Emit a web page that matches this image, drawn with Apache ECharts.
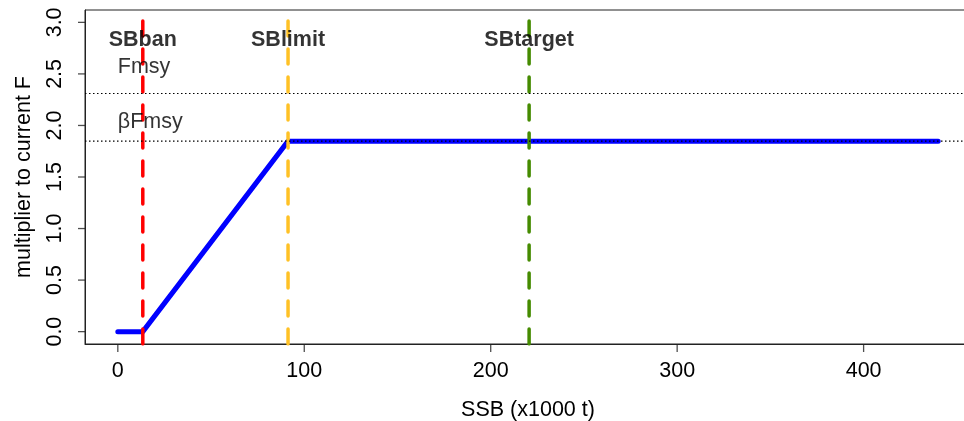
<!DOCTYPE html>
<html>
<head>
<meta charset="utf-8">
<script src="https://cdn.jsdelivr.net/npm/echarts@6/dist/echarts.min.js"></script>
<style>
html,body{margin:0;padding:0;background:#fff;overflow:hidden;width:964px;height:421px;}
#chart{width:971px;height:421px;}
</style>
</head>
<body>
<div id="chart"></div>
<script>
// ---- data ----
const hcrSSB = [0, 13.4, 91.3, 440];
const hcrMultiplier = [0, 0, 1.848, 1.848];
const refNames = ["SBban", "SBlimit", "SBtarget"];
const refSSB = [13.4, 91.3, 220.6];
const refColors = ["#FF0000", "#FFC125", "#458B00"];
const refLabelY = 2.83;
const fLevelNames = ["Fmsy", "βFmsy"];
const fLevels = [2.31, 1.848];
const fLabelY = [2.565, 2.03];
const xTicks = [0, 100, 200, 300, 400];
const yTicks = [0, 0.5, 1, 1.5, 2, 2.5, 3];
const xMin = -17.6, xMax = 457.6;
const yMin = -0.12, yMax = 3.12;

const FONT = "Liberation Sans";
const FS = 21.5;

const series = [];
// horizontal dotted lines
fLevels.forEach((v, i) => {
  series.push({
    type: 'line', data: [[xMin, v], [xMax, v]], symbol: 'none', silent: true, z: 5,
    lineStyle: { color: '#000', width: 1.2, type: [1.5, 2.5] }
  });
});
// HCR line
series.push({
  type: 'line', data: hcrSSB.map((x, i) => [x, hcrMultiplier[i]]), symbol: 'none', z: 3,
  lineStyle: { color: '#0000FF', width: 5, cap: 'round', join: 'round' }
});
// vertical reference lines
refSSB.forEach((x, i) => {
  series.push({
    type: 'line', data: [[x, yMin], [x, yMax]], symbol: 'none', silent: true, z: 4,
    lineStyle: { color: refColors[i], width: 3.5, type: [15, 13], cap: 'round' }
  });
});
// reference labels
series.push({
  type: 'scatter', symbolSize: 0, z: 10,
  data: refNames.map((n, i) => ({ name: n, value: [refSSB[i], refLabelY] })),
  label: { show: true, position: 'inside', formatter: p => p.name,
    fontFamily: FONT, fontSize: FS, fontWeight: 'bold', color: '#000',
    align: 'center', verticalAlign: 'middle' }
});
series.push({
  type: 'scatter', symbolSize: 0, z: 10,
  data: fLevelNames.map((n, i) => ({ name: n, value: [0, fLabelY[i]] })),
  label: { show: true, position: 'inside', formatter: p => p.name,
    fontFamily: FONT, fontSize: FS, color: '#000',
    align: 'left', verticalAlign: 'middle' }
});
// tick marks as small rect symbols at the axis edges (no clipping)
series.push({
  type: 'scatter', silent: true, clip: false, z: 20,
  data: xTicks.map(v => [v, yMin]),
  symbol: 'rect', symbolSize: [1.3, 8], symbolOffset: [0, 4],
  itemStyle: { color: '#222' }
});
series.push({
  type: 'scatter', silent: true, clip: false, z: 20,
  data: yTicks.map(v => [xMin, v]),
  symbol: 'rect', symbolSize: [7, 1.3], symbolOffset: [-3.5, 0],
  itemStyle: { color: '#222' }
});

const chart = echarts.init(document.getElementById('chart'), null, { renderer: 'canvas' });
chart.setOption({
  animation: false,
  backgroundColor: '#fff',
  grid: { left: 85, top: 10, right: 0, bottom: 77, show: true, borderColor: '#222', borderWidth: 1,
    backgroundColor: 'transparent', containLabel: false, outerBoundsMode: 'none' },
  xAxis: {
    type: 'value', min: xMin, max: xMax,
    name: 'SSB (x1000 t)', nameLocation: 'middle', nameGap: 55,
    nameTextStyle: { fontFamily: FONT, fontSize: FS, color: '#000' },
    axisLine: { show: true, onZero: false, lineStyle: { color: '#222', width: 1 } },
    splitLine: { show: false },
    axisTick: { show: false },
    axisLabel: { fontFamily: FONT, fontSize: FS, color: '#000', margin: 16, customValues: xTicks,
      formatter: v => String(v) }
  },
  yAxis: {
    type: 'value', min: yMin, max: yMax,
    name: 'multiplier to current F', nameLocation: 'middle', nameGap: 50,
    nameTextStyle: { fontFamily: FONT, fontSize: FS, color: '#000' },
    axisLine: { show: true, onZero: false, lineStyle: { color: '#222', width: 1 } },
    splitLine: { show: false },
    axisTick: { show: false },
    axisLabel: { fontFamily: FONT, fontSize: FS, color: '#000', margin: 19, rotate: 90, customValues: yTicks,
      formatter: v => v.toFixed(1) }
  },
  series: series
});
</script>
</body>
</html>
